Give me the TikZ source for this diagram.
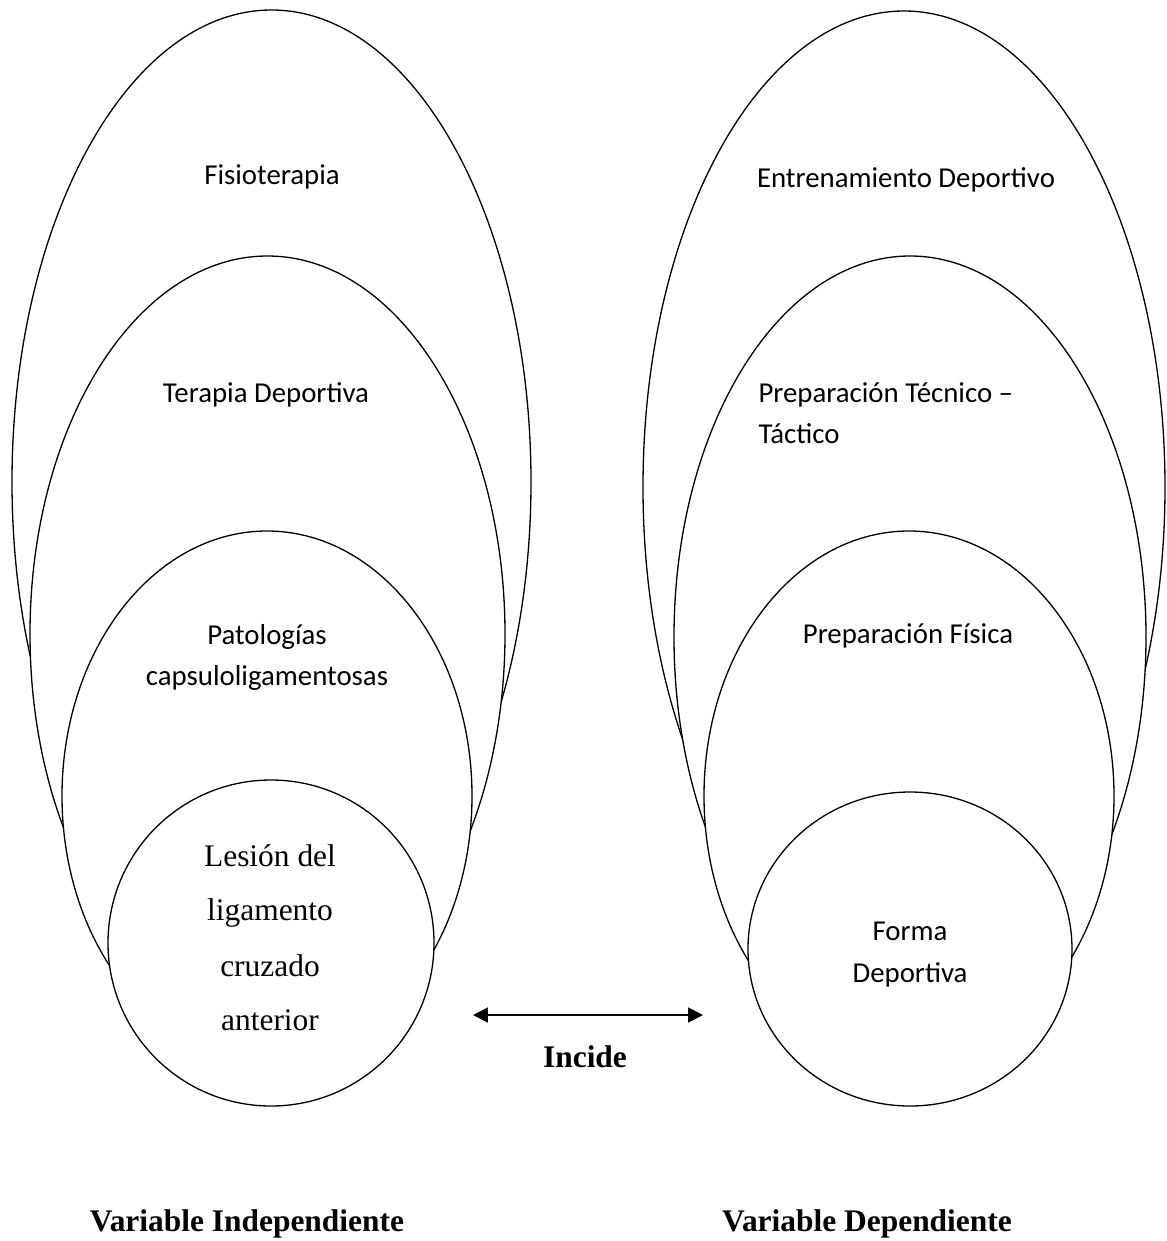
\documentclass[tikz,border=0pt]{standalone}
\usepackage{fontspec}
\setmainfont{Liberation Serif}
\newfontfamily\calibri{Carlito}
\usetikzlibrary{arrows.meta}

\begin{document}
\begin{tikzpicture}[x=0.3817pt, y=-0.3817pt,
    capa/.style={draw, fill=white, line width=0.5pt},
    rotulo/.style={font=\calibri\fontsize{11}{13}\selectfont, anchor=base, inner sep=0pt},
    rotlesion/.style={font=\fontsize{12}{14}\selectfont, anchor=base, inner sep=0pt},
    rotvar/.style={font=\bfseries\fontsize{12}{14}\selectfont, anchor=base, inner sep=0pt}]
    \useasboundingbox (0,0) rectangle (1166,1241);

    % variable independiente
    \draw[capa] (271.5,482) ellipse [x radius=259.5, y radius=472];
    \draw[capa] (267.5,634) ellipse [x radius=237.5, y radius=378];
    \draw[capa] (267,796) ellipse [x radius=205, y radius=265];
    \draw[capa] (271,943) ellipse [x radius=163, y radius=163];

    \node[rotulo] (fisio) at (272,184) {Fisioterapia};
    \node[rotulo] (terapia) at (266,402) {Terapia Deportiva};
    \node[rotulo] (patol1) at (267,644) {Patologías};
    \node[rotulo] (patol2) at (267,685) {capsuloligamentosas};
    \node[rotlesion] (lesion1) at (270,866) {Lesión del};
    \node[rotlesion] (lesion2) at (270,920) {ligamento};
    \node[rotlesion] (lesion3) at (270,976) {cruzado};
    \node[rotlesion] (lesion4) at (270,1030) {anterior};

    % variable dependiente
    \draw[capa] (904,487) ellipse [x radius=261, y radius=476];
    \draw[capa] (910,637) ellipse [x radius=236, y radius=381];
    \draw[capa] (909,796) ellipse [x radius=205, y radius=265];
    \draw[capa] (910,949) ellipse [x radius=162, y radius=157];

    \node[rotulo] (entren) at (906,187) {Entrenamiento Deportivo};
    \node[rotulo, anchor=base west] (tectac1) at (758,402) {Preparación Técnico –};
    \node[rotulo, anchor=base west] (tectac2) at (758,443) {Táctico};
    \node[rotulo] (fisica) at (908,643) {Preparación Física};
    \node[rotulo] (forma1) at (910,940) {Forma};
    \node[rotulo] (forma2) at (910,982) {Deportiva};

    % relacion
    \coordinate (flechaI) at (473,1015);
    \coordinate (flechaD) at (703,1015);
    \draw[{Triangle[length=5.7pt,width=5.7pt]}-{Triangle[length=5.7pt,width=5.7pt]}, line width=0.75pt] (flechaI) -- (flechaD);
    \node[rotvar] (incide) at (585,1067) {Incide};

    \node[rotvar] (vind) at (247,1231) {Variable Independiente};
    \node[rotvar] (vdep) at (867,1231) {Variable Dependiente};
\end{tikzpicture}
\end{document}
